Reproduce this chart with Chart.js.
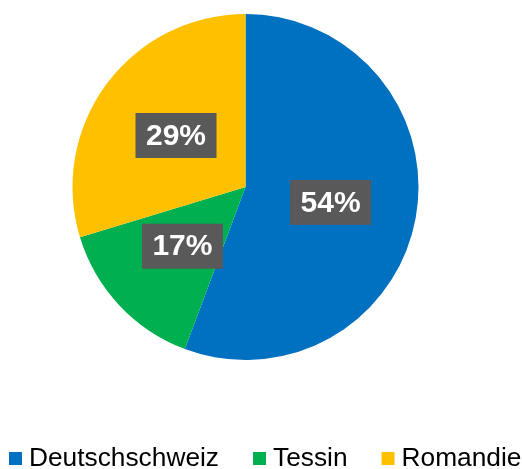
<!DOCTYPE html>
<html>

<head>
    <title>Regionen</title>
    <script src="https://cdn.jsdelivr.net/npm/chart.js"></script>
    <style>
        html, body { margin: 0; padding: 0; background: #ffffff; }
        #wrap { width: 522px; height: 469px; }
    </style>
</head>

<body>
    <div id="wrap"><canvas id="grafico"></canvas></div>

    <script>
        // Werte (Winkel der Segmente)
        const regionen = ["Deutschschweiz", "Tessin", "Romandie"];
        const anteile = [55.7, 14.6, 29.7];
        const beschriftungen = ["54%", "17%", "29%"];
        const farben = ["#0070C0", "#00B050", "#FFC000"];

        Chart.defaults.font.family = "'Liberation Sans', Arial, sans-serif";

        // Prozent-Etiketten in grauen Kästchen
        const etiketten = {
            id: "etiketten",
            afterDatasetsDraw(chart) {
                const ctx = chart.ctx;
                const meta = chart.getDatasetMeta(0);
                ctx.save();
                ctx.font = "bold 30px 'Liberation Sans', Arial, sans-serif";
                ctx.textAlign = "center";
                ctx.textBaseline = "middle";
                meta.data.forEach((arc, i) => {
                    const p = arc.getCenterPoint();
                    const w = 81, h = 45;
                    ctx.fillStyle = "#595959";
                    ctx.fillRect(p.x - w / 2, p.y - h / 2, w, h);
                    ctx.fillStyle = "#ffffff";
                    ctx.fillText(beschriftungen[i], p.x, p.y + 1);
                });
                ctx.restore();
            }
        };

        // Legende unten, von Hand gezeichnet
        const legende = {
            id: "legende",
            afterDraw(chart) {
                const ctx = chart.ctx;
                ctx.save();
                ctx.font = "26.3px 'Liberation Sans', Arial, sans-serif";
                ctx.textBaseline = "alphabetic";
                let x = 9;
                regionen.forEach((name, i) => {
                    ctx.fillStyle = farben[i];
                    ctx.fillRect(x, 452, 13, 13);
                    x += 13 + 7;
                    ctx.fillStyle = "#000000";
                    ctx.fillText(name, x, 465.5);
                    x += ctx.measureText(name).width + 34;
                });
                ctx.restore();
            }
        };

        const ctx = document.getElementById('grafico').getContext('2d');
        new Chart(ctx, {
            type: 'pie',
            data: {
                labels: regionen,
                datasets: [{
                    data: anteile,
                    backgroundColor: farben,
                    borderWidth: 0
                }]
            },
            options: {
                responsive: true,
                maintainAspectRatio: false,
                animation: false,
                layout: {
                    padding: { top: 14, left: 0, right: 31, bottom: 109 }
                },
                plugins: {
                    legend: { display: false },
                    tooltip: { enabled: false }
                }
            },
            plugins: [etiketten, legende]
        });
    </script>
</body>

</html>
